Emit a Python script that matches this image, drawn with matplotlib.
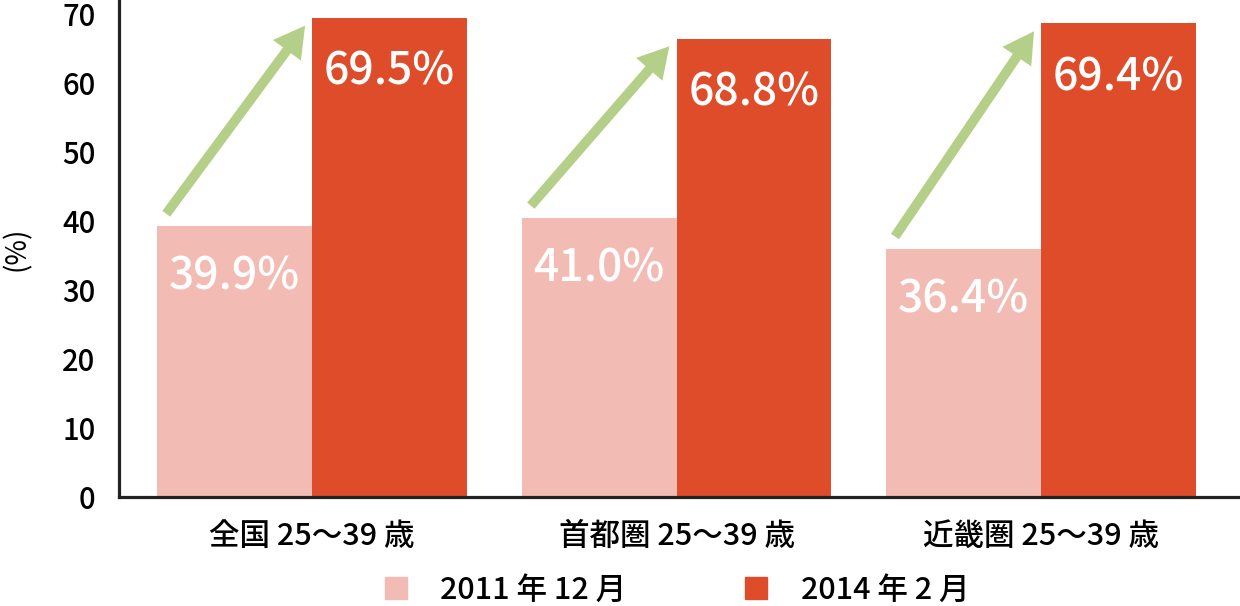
import matplotlib
matplotlib.use("Agg")
import matplotlib.pyplot as plt
import numpy as np
from matplotlib.patches import Patch, FancyArrowPatch

plt.rcParams["font.family"] = ["Noto Sans CJK JP", "DejaVu Sans"]
plt.rcParams["font.weight"] = "medium"

# --- data (bar heights as drawn, labels as printed) ---
regions = ["全国 25～39 歳", "首都圏 25～39 歳", "近畿圏 25～39 歳"]
series_names = ["2011 年 12 月", "2014 年 2 月"]
vals_2011 = [39.2, 40.4, 35.9]
vals_2014 = [69.4, 66.4, 68.6]
labels_2011 = ["39.9%", "41.0%", "36.4%"]
labels_2014 = ["69.5%", "68.8%", "69.4%"]
yticks = [0, 10, 20, 30, 40, 50, 60, 70]

c_light = "#f2bcb4"
c_dark = "#df4c2a"
c_arrow = "#b4cf87"

fig = plt.figure(figsize=(12.4, 6.06), dpi=100)
ax = fig.add_axes([0.096, 0.180, 0.904, 0.820])

x = np.arange(len(regions))
w = 0.425
ax.bar(x - w / 2, vals_2011, w, color=c_light, linewidth=0)
ax.bar(x + w / 2, vals_2014, w, color=c_dark, linewidth=0)

# value labels inside the bars
for i in range(len(regions)):
    ax.text(x[i] - w / 2, vals_2011[i] - 7.4, labels_2011[i], color="white",
            ha="center", va="center", fontsize=32)
    ax.text(x[i] + w / 2, vals_2014[i] - 7.9, labels_2014[i], color="white",
            ha="center", va="center", fontsize=32)

# green growth arrows
for i in range(len(regions)):
    arr = FancyArrowPatch(
        (x[i] - w + 0.02, vals_2011[i] + 1.5),
        (x[i] - 0.015, vals_2014[i] - 0.8),
        arrowstyle="simple,head_length=22,head_width=25,tail_width=7",
        mutation_scale=1, color=c_arrow, linewidth=0, zorder=4,
    )
    ax.add_patch(arr)

ax.set_xlim(-0.53, 2.546)
ax.set_ylim(0, 72)
ax.set_yticks(yticks)
ax.set_xticks(x)
ax.set_xticklabels(regions, fontsize=22)
ax.tick_params(axis="y", length=0, pad=17, labelsize=21)
ax.tick_params(axis="x", length=0, pad=17)
ax.set_ylabel("(%)", fontsize=20, labelpad=22)

for s in ["top", "right"]:
    ax.spines[s].set_visible(False)
for s in ["left", "bottom"]:
    ax.spines[s].set_linewidth(2.3)
    ax.spines[s].set_color("#222222")

handles = [Patch(color=c_light, label=series_names[0]),
           Patch(color=c_dark, label=series_names[1])]
fig.legend(handles=handles, loc="center", bbox_to_anchor=(0.546, 0.026),
           ncol=2, frameon=False, fontsize=22, handlelength=0.72,
           handleheight=0.72, handletextpad=1.1, columnspacing=3.9)

fig.savefig("out.png", dpi=100)
